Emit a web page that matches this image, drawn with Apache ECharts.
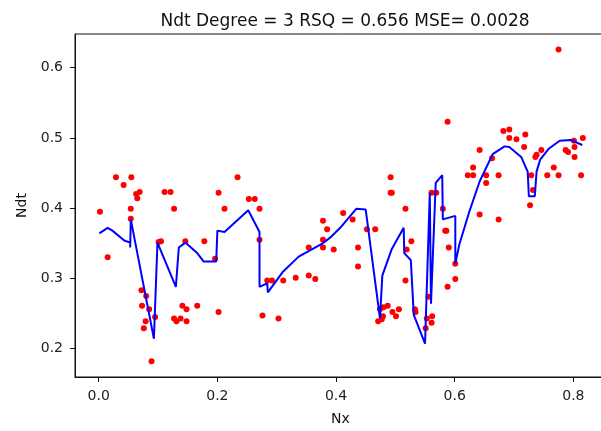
<!DOCTYPE html>
<html>
<head>
    <meta charset="utf-8">
    <script src="https://cdn.jsdelivr.net/npm/echarts@6/dist/echarts.min.js"></script>
</head>
<body style="margin:0;overflow:hidden">
    <!-- chart box is a bit wider than the window: the right spine falls outside the picture -->
    <div id="main" style="width: 612px;height:431px;"></div>
    <script type="text/javascript">
        // observed points (Nx, Ndt)
        var ptX = [0.002, 0.015, 0.029, 0.042, 0.054, 0.054, 0.055, 0.063, 0.065, 0.069,
            0.072, 0.073, 0.076, 0.079, 0.080, 0.085, 0.089, 0.095, 0.101, 0.105,
            0.111, 0.121, 0.127, 0.127, 0.131, 0.138, 0.141, 0.146, 0.148, 0.148,
            0.166, 0.178, 0.196, 0.202, 0.202, 0.212, 0.234, 0.253, 0.263, 0.271,
            0.271, 0.276, 0.284, 0.292, 0.303, 0.311, 0.332, 0.354, 0.354, 0.365,
            0.378, 0.378, 0.378, 0.385, 0.396, 0.412, 0.428, 0.437, 0.437, 0.452,
            0.466, 0.471, 0.474, 0.479, 0.487, 0.492, 0.492, 0.494, 0.495, 0.501,
            0.506, 0.517, 0.517, 0.519, 0.527, 0.533, 0.534, 0.551, 0.553, 0.556,
            0.561, 0.561, 0.562, 0.569, 0.580, 0.584, 0.586, 0.588, 0.588, 0.590,
            0.601, 0.601, 0.622, 0.631, 0.631, 0.642, 0.642, 0.653, 0.653, 0.663,
            0.674, 0.674, 0.682, 0.692, 0.692, 0.704, 0.717, 0.719, 0.727, 0.729,
            0.732, 0.736, 0.738, 0.746, 0.756, 0.767, 0.775, 0.775, 0.787, 0.791,
            0.801, 0.802, 0.802, 0.813, 0.816, 0.477, 0.480];
        var ptY = [0.395, 0.330, 0.444, 0.433, 0.399, 0.385, 0.444, 0.420, 0.414, 0.423,
            0.283, 0.261, 0.229, 0.239, 0.275, 0.256, 0.182, 0.245, 0.352, 0.353,
            0.423, 0.423, 0.399, 0.243, 0.239, 0.243, 0.261, 0.353, 0.256, 0.239,
            0.261, 0.353, 0.328, 0.422, 0.252, 0.399, 0.444, 0.413, 0.413, 0.399,
            0.355, 0.247, 0.297, 0.297, 0.243, 0.297, 0.301, 0.304, 0.344, 0.299,
            0.382, 0.355, 0.344, 0.370, 0.341, 0.393, 0.384, 0.344, 0.317, 0.370,
            0.370, 0.239, 0.256, 0.246, 0.261, 0.444, 0.422, 0.422, 0.252, 0.246,
            0.256, 0.399, 0.297, 0.341, 0.353, 0.256, 0.252, 0.229, 0.243, 0.274,
            0.237, 0.422, 0.246, 0.422, 0.399, 0.368, 0.368, 0.523, 0.288, 0.344,
            0.321, 0.299, 0.447, 0.447, 0.458, 0.483, 0.391, 0.447, 0.436, 0.471,
            0.447, 0.384, 0.510, 0.512, 0.500, 0.498, 0.487, 0.505, 0.404, 0.447,
            0.426, 0.473, 0.476, 0.483, 0.447, 0.458, 0.626, 0.447, 0.483, 0.480,
            0.496, 0.487, 0.473, 0.447, 0.500, 0.242, 0.259];

        // fitted degree-3 model, in x order
        var fitX = [0.001, 0.015, 0.023, 0.043, 0.053, 0.053, 0.054, 0.093, 0.099, 0.130,
            0.135, 0.146, 0.166, 0.177, 0.198, 0.200, 0.212, 0.252, 0.271, 0.271,
            0.284, 0.285, 0.310, 0.337, 0.376, 0.390, 0.407, 0.434, 0.450, 0.474,
            0.478, 0.494, 0.514, 0.515, 0.526, 0.531, 0.550, 0.558, 0.560, 0.568,
            0.579, 0.580, 0.601, 0.601, 0.608, 0.625, 0.642, 0.664, 0.684, 0.692,
            0.712, 0.723, 0.725, 0.735, 0.738, 0.744, 0.759, 0.777, 0.796, 0.815];
        var fitY = [0.364, 0.372, 0.368, 0.354, 0.351, 0.344, 0.384, 0.214, 0.351, 0.288,
            0.344, 0.351, 0.336, 0.324, 0.324, 0.368, 0.366, 0.397, 0.366, 0.288,
            0.293, 0.280, 0.309, 0.331, 0.349, 0.358, 0.372, 0.399, 0.398, 0.243,
            0.304, 0.342, 0.372, 0.336, 0.326, 0.248, 0.207, 0.422, 0.264, 0.436,
            0.447, 0.384, 0.389, 0.321, 0.349, 0.396, 0.438, 0.477, 0.488, 0.487,
            0.473, 0.452, 0.417, 0.417, 0.452, 0.469, 0.485, 0.496, 0.497, 0.490];

        var xTicks = [0.0, 0.2, 0.4, 0.6, 0.8];
        var yTicks = [0.2, 0.3, 0.4, 0.5, 0.6];

        var points = ptX.map(function (x, i) { return [x, ptY[i]]; });
        var fit = fitX.map(function (x, i) { return [x, fitY[i]]; });

        var font = 'DejaVu Sans';
        var myChart = echarts.init(document.getElementById('main'));
        myChart.setOption({
            animation: false,
            backgroundColor: '#fff',
            title: {
                text: 'Ndt Degree = 3 RSQ = 0.656 MSE= 0.0028',
                left: 340, top: 8, textAlign: 'center',
                textStyle: { fontFamily: font, fontSize: 17, fontWeight: 'normal', color: '#111' }
            },
            grid: {
                left: 75, right: 6, top: 34, bottom: 50,
                show: true, borderColor: '#111', borderWidth: 1
            },
            xAxis: {
                type: 'value', min: -0.040, max: 0.855,
                name: 'Nx', nameLocation: 'middle', nameGap: 35,
                nameTextStyle: { fontFamily: font, fontSize: 14, color: '#111' },
                splitLine: { show: false },
                axisLine: { onZero: false, lineStyle: { color: '#111' } },
                axisTick: { length: 5, lineStyle: { color: '#111' }, customValues: xTicks },
                axisLabel: {
                    fontFamily: font, fontSize: 14, color: '#222', margin: 12,
                    customValues: xTicks,
                    formatter: function (v) { return v.toFixed(1); }
                }
            },
            yAxis: {
                type: 'value', min: 0.1596, max: 0.648,
                name: 'Ndt', nameLocation: 'middle', nameGap: 44,
                nameTextStyle: { fontFamily: font, fontSize: 14, color: '#111' },
                splitLine: { show: false },
                axisLine: { show: true, onZero: false, lineStyle: { color: '#111' } },
                axisTick: { show: true, length: 5, lineStyle: { color: '#111' }, customValues: yTicks },
                axisLabel: {
                    fontFamily: font, fontSize: 14, color: '#222', margin: 12,
                    customValues: yTicks,
                    formatter: function (v) { return v.toFixed(1); }
                }
            },
            series: [{
                type: 'scatter',
                data: points,
                symbolSize: 6,
                itemStyle: { color: '#ff0000', opacity: 1 },
                z: 2
            }, {
                type: 'line',
                data: fit,
                showSymbol: false,
                lineStyle: { color: '#0000ff', width: 2 },
                z: 3
            }]
        });
    </script>
</body>
</html>
